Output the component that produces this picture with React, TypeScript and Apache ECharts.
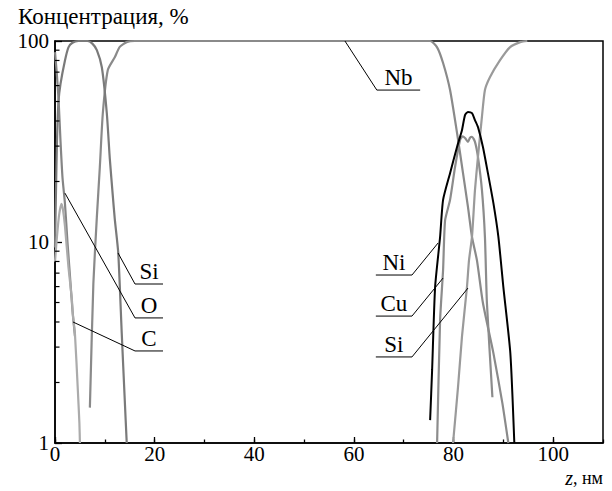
import React, { useEffect, useRef } from "react";
import * as echarts from "echarts";

// ---- data (z in nm, concentration in %) ----
const nbZ = [7.0, 7.7, 8.4, 9.0, 9.6, 10.6, 12.0, 13.0, 14.5, 16, 75.3, 76.7, 77.9, 79.3, 80.7, 81.9, 82.9, 83.7, 84.7, 85.9, 88.0, 89.8, 91.0];
const nbC = [1.5, 6.2, 13.3, 23.6, 43.7, 71.7, 83, 93.5, 99, 100, 100, 93, 77.7, 57, 34.9, 22, 14.9, 10.6, 8.1, 4.97, 2.8, 1.58, 1.0];

const siLZ = [0, 0.2, 0.4, 0.7, 1.1, 2.0, 2.7, 3.5, 4.7, 6.5, 7.5, 8.4, 9.4, 10.4, 11.0, 11.6, 12.0, 12.7, 13.4, 14.0, 14.4];
const siLC = [9.4, 18, 32, 50, 61, 80, 93, 98, 100, 100, 97, 90, 74, 43.7, 26, 17, 13, 8.8, 3.5, 1.64, 1.0];

const oZ = [0, 0.3, 0.7, 1.1, 1.5, 2.0, 2.5, 3.0, 3.5, 4.0];
const oC = [88, 72, 52, 32, 21, 15.5, 10, 6.8, 4.6, 3.4];

const cZ = [0, 0.3, 0.8, 1.3, 1.6, 2.0, 2.7, 3.35, 3.6, 4.0, 4.6, 4.9, 5.0];
const cC = [8, 10, 13.5, 15.5, 14.5, 12, 7.5, 5.3, 4.3, 3.5, 1.8, 1.25, 1.0];

const niZ = [75.3, 75.7, 76.3, 77.3, 77.9, 79.3, 80.7, 81.7, 82.3, 82.9, 83.7, 84.3, 84.9, 85.9, 86.9, 88.0, 89.0, 90.0, 91.4, 92.2];
const niC = [1.3, 2.31, 5.97, 10.6, 16.2, 22.0, 29.7, 36.1, 42.8, 44.4, 43.8, 40.4, 37.3, 29.7, 22.0, 15.6, 10.6, 5.97, 2.8, 1.0];

const cuZ = [76.7, 77.3, 77.9, 78.3, 79.3, 80.3, 81.3, 81.8, 82.3, 82.9, 83.3, 83.7, 84.3, 84.9, 85.7, 86.3, 86.7, 87.8];
const cuC = [1.0, 4.09, 7.26, 12.8, 16.2, 23.6, 32.1, 33.5, 32.9, 31.5, 33.0, 33.4, 31.5, 26.5, 18.1, 10.6, 4.97, 1.69];

const siRZ = [79.9, 80.9, 81.7, 82.7, 83.1, 83.7, 84.3, 84.9, 85.7, 86.3, 87.3, 89.3, 91.3, 93.5, 94.8];
const siRC = [1.0, 1.9, 3.4, 6.0, 8.1, 10.6, 18.1, 26.5, 42, 57, 66, 80, 93, 99, 100];

// minor ticks of the log axis
const yMinorTicks = [2, 3, 4, 5, 6, 7, 8, 9, 20, 30, 40, 50, 60, 70, 80, 90];

// annotation leaders: [zCurve, cCurve, zElbow, cLine, zEnd]
const annotNames = ["Nb", "Si", "O", "C", "Ni", "Cu", "Si"];
const annotLeaders = [
  [58.2, 100, 64.6, 57, 73.3],
  [12.65, 8.82, 16.06, 6.18, 21.68],
  [2.0, 17.5, 16.06, 4.19, 21.68],
  [3.61, 4.0, 16.06, 2.87, 21.68],
  [76.9, 9.89, 71.66, 6.85, 64.4],
  [77.9, 6.62, 71.66, 4.28, 64.4],
  [82.9, 5.9, 71.66, 2.68, 64.4],
];

const FONT = '"Liberation Serif", "DejaVu Serif", serif';
const zip = (a: number[], b: number[]) => a.map((v, i) => [v, b[i]]);

export default function App() {
  const ref = useRef<HTMLDivElement>(null);
  useEffect(() => {
    if (!ref.current) return;
    const chart = echarts.init(ref.current, undefined, { renderer: "svg" });
    const line = (name: string, z: number[], c: number[], color: string, w = 2.2) => ({
      type: "line",
      name,
      data: zip(z, c),
      showSymbol: false,
      smooth: 0.2,
      clip: false,
      lineStyle: { color, width: w },
      z: 3,
    });
    chart.setOption({
      animation: false,
      title: [
        {
          text: "Концентрация, %",
          left: 13,
          top: 0,
          textStyle: { fontFamily: FONT, fontSize: 23, fontWeight: "normal", color: "#000" },
        },
        {
          text: "{i|z}, нм",
          right: 9,
          bottom: 0,
          padding: [0, 0, 2, 0],
          textStyle: {
            fontFamily: FONT,
            fontSize: 18,
            lineHeight: 18,
            fontWeight: "normal",
            color: "#000",
            rich: { i: { fontFamily: FONT, fontSize: 20, lineHeight: 18, fontStyle: "italic", color: "#000" } },
          },
        },
      ],
      grid: { left: 55, right: 9, top: 41, bottom: 48, show: true, borderColor: "#000", borderWidth: 1.5, backgroundColor: "transparent" },
      xAxis: [
        {
          type: "value",
          min: 0,
          max: 110,
          interval: 20,
          position: "bottom",
          axisLine: { show: true, lineStyle: { color: "#000", width: 1.5 } },
          axisTick: { show: true, inside: true, length: 6, lineStyle: { color: "#000", width: 1.3 } },
          axisLabel: { show: true, margin: 2, lineHeight: 18, showMaxLabel: false, fontFamily: FONT, fontSize: 21, color: "#000" },
          splitLine: { show: false },
        },
        {
          type: "value",
          min: 0,
          max: 110,
          interval: 10,
          position: "bottom",
          axisLine: { show: false },
          axisTick: { show: true, inside: true, length: 3.5, lineStyle: { color: "#000", width: 1.3 } },
          axisLabel: { show: false },
          splitLine: { show: false },
        },
      ],
      yAxis: {
        type: "log",
        logBase: 10,
        min: 1,
        max: 100,
        axisLine: { show: true, lineStyle: { color: "#000", width: 1.5 } },
        axisTick: { show: true, inside: true, length: 7, lineStyle: { color: "#000", width: 1.3 } },
        axisLabel: { margin: 6, fontFamily: FONT, fontSize: 21, color: "#000" },
        splitLine: { show: false },
      },
      series: [
        line("Nb", nbZ, nbC, "#8a8a8a"),
        line("Si_left", siLZ, siLC, "#7a7a7a"),
        line("O", oZ, oC, "#858585"),
        line("C", cZ, cC, "#ababab"),
        line("Cu", cuZ, cuC, "#8c8c8c"),
        line("Si_right", siRZ, siRC, "#9a9a9a"),
        line("Ni", niZ, niC, "#000000", 2),
        {
          type: "custom",
          name: "minorTicks",
          data: yMinorTicks.map((v) => [0, v]),
          clip: false,
          silent: true,
          z: 4,
          renderItem: (_p: any, api: any) => {
            const p = api.coord([0, api.value(1)]);
            return {
              type: "line",
              shape: { x1: p[0], y1: p[1], x2: p[0] + 4.5, y2: p[1] },
              style: { stroke: "#000", lineWidth: 1.2 },
            };
          },
        },
        {
          type: "custom",
          name: "annotations",
          data: annotLeaders,
          clip: false,
          silent: true,
          z: 5,
          renderItem: (params: any, api: any) => {
            const p0 = api.coord([api.value(0), api.value(1)]);
            const p1 = api.coord([api.value(2), api.value(3)]);
            const p2 = api.coord([api.value(4), api.value(3)]);
            return {
              type: "group",
              children: [
                {
                  type: "polyline",
                  shape: { points: [p0, p1, p2] },
                  style: { stroke: "#000", lineWidth: 1, fill: null },
                },
                {
                  type: "text",
                  x: (p1[0] + p2[0]) / 2,
                  y: p1[1] - 1,
                  style: {
                    text: annotNames[params.dataIndex],
                    align: "center",
                    verticalAlign: "bottom",
                    fontFamily: FONT,
                    fontSize: 23,
                    fill: "#000",
                  },
                },
              ],
            };
          },
        },
      ],
    });
    return () => chart.dispose();
  }, []);
  return <div ref={ref} style={{ position: "absolute", left: 0, top: 0, width: 612, height: 491 }} />;
}
